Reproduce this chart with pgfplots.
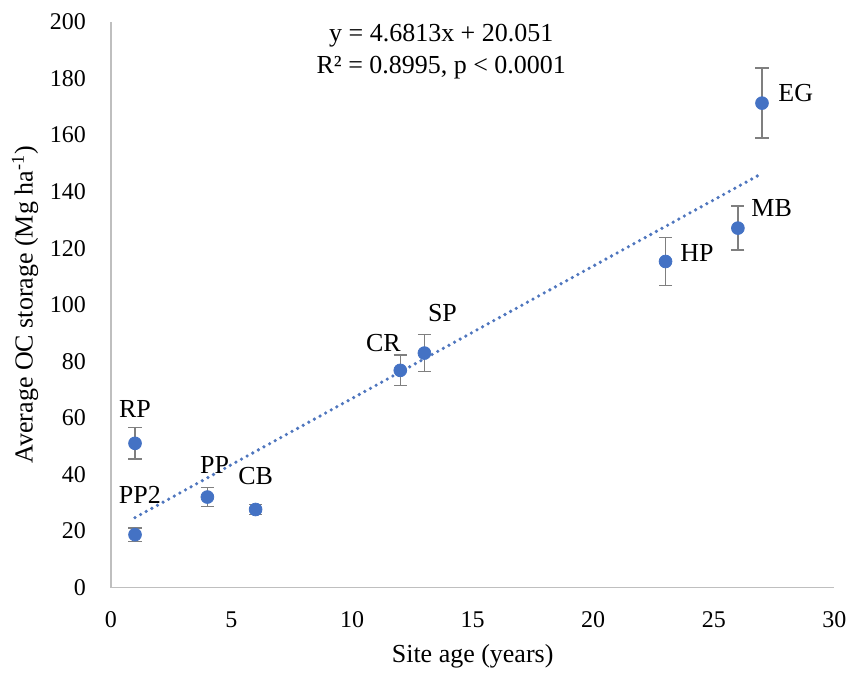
\documentclass[border=0pt]{standalone}
\usepackage{pgfplots}
\pgfplotsset{compat=1.18}
\usepackage{fontspec}
\setmainfont{Liberation Serif}
\definecolor{xblue}{HTML}{4472C4}
\definecolor{trend}{HTML}{4F76BE}
\definecolor{errgray}{HTML}{7F7F7F}
\definecolor{axgray}{HTML}{BFBFBF}
\begin{document}
\begin{tikzpicture}
\begin{axis}[
  scale only axis,
  width=362pt, height=283pt,
  xmin=0, xmax=30, ymin=0, ymax=200,
  xtick={0,5,...,30}, ytick={0,20,...,200},
  axis x line*=bottom, axis y line*=left,
  axis line style={axgray, line width=0.8pt},
  major tick length=0pt,
  /pgf/number format/assume math mode=true,
  tick label style={font=\fontsize{12}{14}\selectfont, black},
  xticklabel style={yshift=-8.5pt},
  yticklabel style={xshift=-9pt},
  xlabel={Site age (years)},
  ylabel={Average OC storage (Mg ha\textsuperscript{-1})},
  label style={font=\fontsize{13}{15}\selectfont},
  xlabel style={at={(axis description cs:0.5,-0.1219)}, anchor=center},
  ylabel style={at={(axis description cs:-0.1188,0.5)}, anchor=center, rotate=0},
  clip=false,
]
% trendline y = 4.6813x + 20.051 over the data range
\addplot[trend, line width=1.8pt, line cap=round, dash pattern=on 0pt off 3.2pt] coordinates {(1,24.73) (27,146.45)};
\addplot[only marks, mark=*, mark size=3.2pt, mark options={fill=xblue, draw=xblue},
  error bars/.cd, y dir=both, y explicit,
  error bar style={errgray, line width=0.7pt},
  error mark options={errgray, line width=0.7pt, mark size=3.3pt, rotate=90}]
  coordinates {
  (1,51.0) +- (0,5.6)
  (1,18.7) +- (0,2.4)
  (4,32.0) +- (0,3.4)
  (6,27.6) +- (0,1.8)
  (12,76.8) +- (0,5.4)
  (13,82.9) +- (0,6.5)
  (23,115.3) +- (0,8.5)
  (26,127.1) +- (0,7.8)
  (27,171.3) +- (0,12.4)
  };
\begin{scope}[every node/.style={font=\fontsize{13}{15}\selectfont, inner sep=0pt}]
\node at (axis cs:1.0,63.0) {RP};
\node at (axis cs:1.2,32.9) {PP2};
\node at (axis cs:4.3,43.5) {PP};
\node at (axis cs:6.0,39.4) {CB};
\node at (axis cs:11.3,86.5) {CR};
\node at (axis cs:13.75,97.0) {SP};
\node at (axis cs:24.3,118.4) {HP};
\node at (axis cs:27.4,134.3) {MB};
\node at (axis cs:28.4,174.9) {EG};
\node[align=center, font=\fontsize{13}{16}\selectfont] at (axis cs:13.7,189.5) {y = 4.6813x + 20.051\\R² = 0.8995, p {<} 0.0001};
\end{scope}
\end{axis}
\path (current axis.south west)+(-55.5pt,-43.5pt) rectangle ([shift={(9pt,11pt)}]current axis.north east);
\end{tikzpicture}
\end{document}
